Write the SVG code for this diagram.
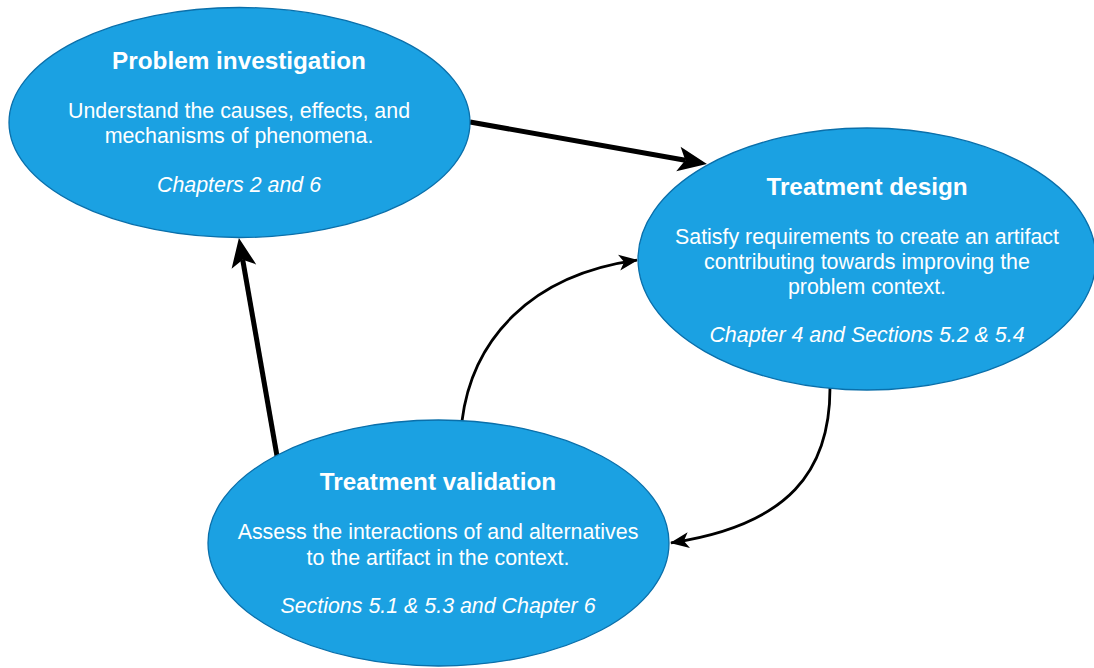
<svg xmlns="http://www.w3.org/2000/svg" width="1094" height="668" viewBox="0 0 1094 668">
<style>
.node{fill:#1BA1E2;stroke:#0A6FAA;stroke-width:1.3}
text{fill:#FFFFFF;font-family:"Liberation Sans",Arial,sans-serif;text-anchor:middle}
.t{font-size:24.3px;font-weight:bold}
.b{font-size:21.4px}
.i{font-size:21.4px;font-style:italic}
.thick{fill:none;stroke:#000;stroke-width:5}
.thin{fill:none;stroke:#000;stroke-width:2.8}
</style>
<defs>
<marker id="bigArrow" markerUnits="userSpaceOnUse" markerWidth="30" markerHeight="28" refX="7" refY="12.5" orient="auto" overflow="visible">
<path d="M0,0 L29,12.5 L0,25 L7,12.5 Z" fill="#000"/>
</marker>
<marker id="smallArrow" markerUnits="userSpaceOnUse" markerWidth="20" markerHeight="18" refX="18" refY="8" orient="auto" overflow="visible">
<path d="M0,0 L19,8 L0,16 L5,8 Z" fill="#000"/>
</marker>
</defs>
<g id="connectors">
<path class="thick" d="M470,122 L685.3,160.2" marker-end="url(#bigArrow)"/>
<path class="thick" d="M277,456 L242.7,259.7" marker-end="url(#bigArrow)"/>
<path class="thin" d="M462,421 C472,340 530,275 637,260.2" marker-end="url(#smallArrow)"/>
<path class="thin" d="M830,388 C830,470 790,525 671,542.8" marker-end="url(#smallArrow)"/>
</g>
<g id="problem-investigation">
<ellipse class="node" cx="239.5" cy="122.5" rx="230.5" ry="115"/>
<text class="t" x="239" y="69">Problem investigation</text>
<text class="b" x="239" y="118">Understand the causes, effects, and</text>
<text class="b" x="239" y="143">mechanisms of phenomena.</text>
<text class="i" x="239" y="192">Chapters 2 and 6</text>
</g>
<g id="treatment-design">
<ellipse class="node" cx="867" cy="259" rx="229" ry="131"/>
<text class="t" x="867" y="195">Treatment design</text>
<text class="b" x="867" y="244">Satisfy requirements to create an artifact</text>
<text class="b" x="867" y="269">contributing towards improving the</text>
<text class="b" x="867" y="294">problem context.</text>
<text class="i" x="867" y="342">Chapter 4 and Sections 5.2 &amp; 5.4</text>
</g>
<g id="treatment-validation">
<ellipse class="node" cx="438.5" cy="543" rx="230.5" ry="123"/>
<text class="t" x="438" y="490">Treatment validation</text>
<text class="b" x="438" y="539">Assess the interactions of and alternatives</text>
<text class="b" x="438" y="565">to the artifact in the context.</text>
<text class="i" x="438" y="613">Sections 5.1 &amp; 5.3 and Chapter 6</text>
</g>
</svg>
